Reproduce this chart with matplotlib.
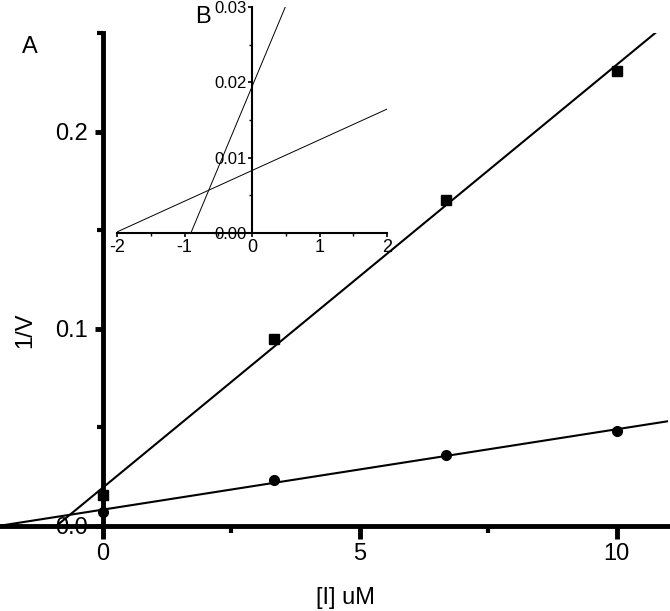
import numpy as np
import matplotlib
matplotlib.use("Agg")
import matplotlib.pyplot as plt
from matplotlib.ticker import FixedLocator

plt.rcParams['font.family'] = ['Liberation Sans', 'DejaVu Sans']

# Data (Dixon plot)
inhibitor_um = [0.0, 3.33, 6.67, 10.0]
inv_v_square = [0.0157, 0.0949, 0.1655, 0.2305]
inv_v_circle = [0.0071, 0.0234, 0.0360, 0.0482]

main_xticks = [0, 5, 10]
main_xticklabels = ["0", "5", "10"]
main_yticks = [0.0, 0.1, 0.2]
main_yticklabels = ["0.0", "0.1", "0.2"]
inset_xticks = [-2, -1, 0, 1, 2]
inset_xticklabels = ["-2", "-1", "0", "1", "2"]
inset_yticks = [0.00, 0.01, 0.02, 0.03]
inset_yticklabels = ["0.00", "0.01", "0.02", "0.03"]

W, H = 670, 611
fig = plt.figure(figsize=(W / 100, H / 100), dpi=100)

# ---------------- main axes ----------------
ax = fig.add_axes([0.0, (H - 526) / H, 668 / W, (526 - 33) / H])
ax.set_xlim(-2, 11)
ax.set_ylim(0, 0.25)

x = np.array(inhibitor_um)
ps = np.polyfit(x, inv_v_square, 1)
pc = np.polyfit(x, inv_v_circle, 1)
xf = np.array([-2.0, 11.0])
ax.plot(xf, np.polyval(ps, xf), color='black', lw=1.5, zorder=3)
ax.plot(xf, np.polyval(pc, xf), color='black', lw=1.5, zorder=3)
ax.plot(x, inv_v_square, 's', color='black', ms=7, zorder=4, clip_on=False)
ax.plot(x, inv_v_circle, 'o', color='black', ms=7, zorder=4, clip_on=False)

for s in ['top', 'right']:
    ax.spines[s].set_visible(False)
ax.spines['left'].set_position(('data', 0))
ax.spines['left'].set_linewidth(3.5)
ax.spines['bottom'].set_linewidth(3.5)

ax.set_xticks(main_xticks)
ax.set_xticklabels(main_xticklabels)
ax.xaxis.set_minor_locator(FixedLocator([2.5, 7.5]))
ax.set_yticks(main_yticks)
ax.set_yticklabels(main_yticklabels)
ax.yaxis.set_minor_locator(FixedLocator([0.05, 0.15, 0.25]))
ax.tick_params(axis='x', which='major', direction='out', length=9, width=3.5,
               labelsize=17, pad=3)
ax.tick_params(axis='x', which='minor', direction='out', length=5, width=3)
ax.tick_params(axis='y', which='major', direction='out', length=6, width=3.5,
               labelsize=17, pad=5)
ax.tick_params(axis='y', which='minor', direction='out', length=4, width=3)

fig.text(345 / W, 1 - 598 / H, "[I] uM", fontsize=17, ha='center', va='center')
fig.text(25 / W, 1 - 330 / H, "1/V", fontsize=17, ha='center', va='center',
         rotation=90)
fig.text(30 / W, 1 - 47 / H, "A", fontsize=17, ha='center', va='center')
fig.text(203 / W, 1 - 17 / H, "B", fontsize=17, ha='center', va='center')

# ---------------- inset ----------------
ins = fig.add_axes([117 / W, (H - 233) / H, 270 / W, 226 / H])
ins.patch.set_alpha(0)
ins.set_xlim(-2, 2)
ins.set_ylim(0, 0.03)
xi = np.array([-2.0, 2.0])
ins.plot(xi, np.polyval(ps, xi), color='black', lw=0.7)
ins.plot(xi, np.polyval(pc, xi), color='black', lw=0.7)
for s in ['top', 'right']:
    ins.spines[s].set_visible(False)
ins.spines['left'].set_position(('data', 0))
ins.spines['left'].set_linewidth(1.5)
ins.spines['bottom'].set_linewidth(1.5)
ins.set_xticks(inset_xticks)
ins.set_xticklabels(inset_xticklabels)
ins.xaxis.set_minor_locator(FixedLocator([-1.5, -0.5, 0.5, 1.5]))
ins.set_yticks(inset_yticks)
ins.set_yticklabels(inset_yticklabels)
ins.yaxis.set_minor_locator(FixedLocator([0.005, 0.015, 0.025]))
ins.tick_params(axis='x', which='major', direction='out', length=3, width=1.2,
                labelsize=13, pad=1)
ins.tick_params(axis='x', which='minor', direction='out', length=2, width=1.0)
ins.tick_params(axis='y', which='major', direction='out', length=3, width=1.2,
                labelsize=12, pad=1)
ins.tick_params(axis='y', which='minor', direction='out', length=2, width=1.0)

fig.savefig("out.png", dpi=100)
